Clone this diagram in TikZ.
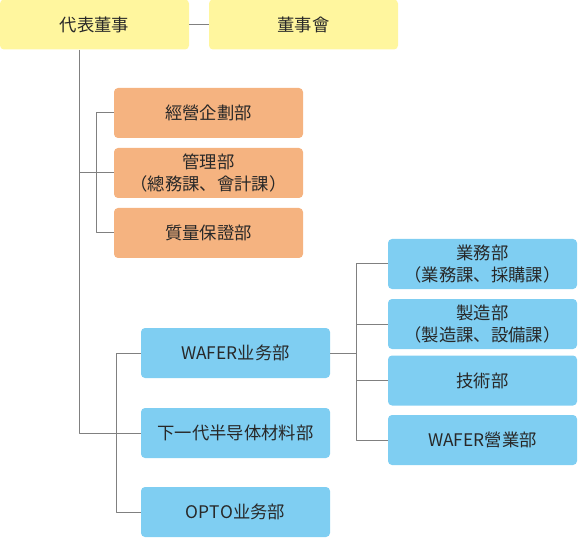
\documentclass[tikz,border=0pt]{standalone}
\usepackage{fontspec}
\usepackage{tikz}
\usetikzlibrary{calc, positioning}
\newfontfamily\cjk[Kerning=Off]{Noto Sans CJK JP}
\definecolor{boardyellow}{RGB}{255, 246, 158}
\definecolor{staffpeach}{RGB}{245, 179, 128}
\definecolor{unitblue}{RGB}{127, 206, 242}
\definecolor{linkgray}{RGB}{128, 128, 128}
\definecolor{inkgray}{RGB}{40, 40, 40}
% dấu câu toàn khổ
\newcommand{\lpar}{\makebox[1em][r]{（}}
\newcommand{\rpar}{\makebox[1em][l]{）}}
\newcommand{\dun}{\makebox[1em][l]{、}}

\begin{document}
\begin{tikzpicture}[x=0.75pt, y=-0.75pt, line join=round,
    box/.style={rounded corners=3pt, minimum width=189*0.75pt, minimum height=50*0.75pt,
        inner sep=0pt, align=center, text=inkgray, font=\cjk\fontsize{13}{16}\selectfont},
    topbox/.style={box, fill=boardyellow},
    staffbox/.style={box, fill=staffpeach},
    unitbox/.style={box, fill=unitblue},
    link/.style={draw=linkgray, line width=0.75pt}]
    \useasboundingbox (0,0) rectangle (578,538);

    % Hàng trên cùng
    \node[topbox] (ceo) at (94.5,24.5) {代表董事};
    \node[topbox] (board) at (303.5,24.5) {董事會};

    % Các phòng ban trực thuộc (màu cam)
    \node[staffbox] (plan) at (208.5,113) {經營企劃部};
    \node[staffbox] (admin) at (208.5,173) {管理部\\\lpar 總務課\dun 會計課\rpar};
    \node[staffbox] (qa) at (208.5,233) {質量保證部};

    % Các bộ phận kinh doanh (màu xanh)
    \node[unitbox] (wafer) at (235.5,353) {WAFER业务部};
    \node[unitbox] (nextgen) at (235.5,433) {下一代半导体材料部};
    \node[unitbox] (opto) at (235.5,512) {OPTO业务部};

    % Các phòng dưới WAFER业务部
    \node[unitbox] (sales) at (482.5,264) {業務部\\\lpar 業務課\dun 採購課\rpar};
    \node[unitbox] (mfg) at (482.5,324) {製造部\\\lpar 製造課\dun 設備課\rpar};
    \node[unitbox] (tech) at (482.5,380.5) {技術部};
    \node[unitbox] (wsales) at (482.5,440) {WAFER營業部};

    % Đường nối
    \draw[link] (ceo) -- (board);
    \draw[link] (ceo.south west) ++(80,0) |- (nextgen.west);
    \draw[link] (admin.west) -- ++(-34,0);
    \draw[link] (plan.west) -- ++(-17,0) |- (qa.west);
    \draw[link] (wafer.west) -- ++(-24,0) |- (opto.west);
    \draw[link] (wafer.east) -- ++(27,0);
    \draw[link] (sales.west) -- ++(-31,0) |- (wsales.west);
    \draw[link] (mfg.west) -- ++(-31,0);
    \draw[link] (tech.west) -- ++(-31,0);
\end{tikzpicture}
\end{document}
